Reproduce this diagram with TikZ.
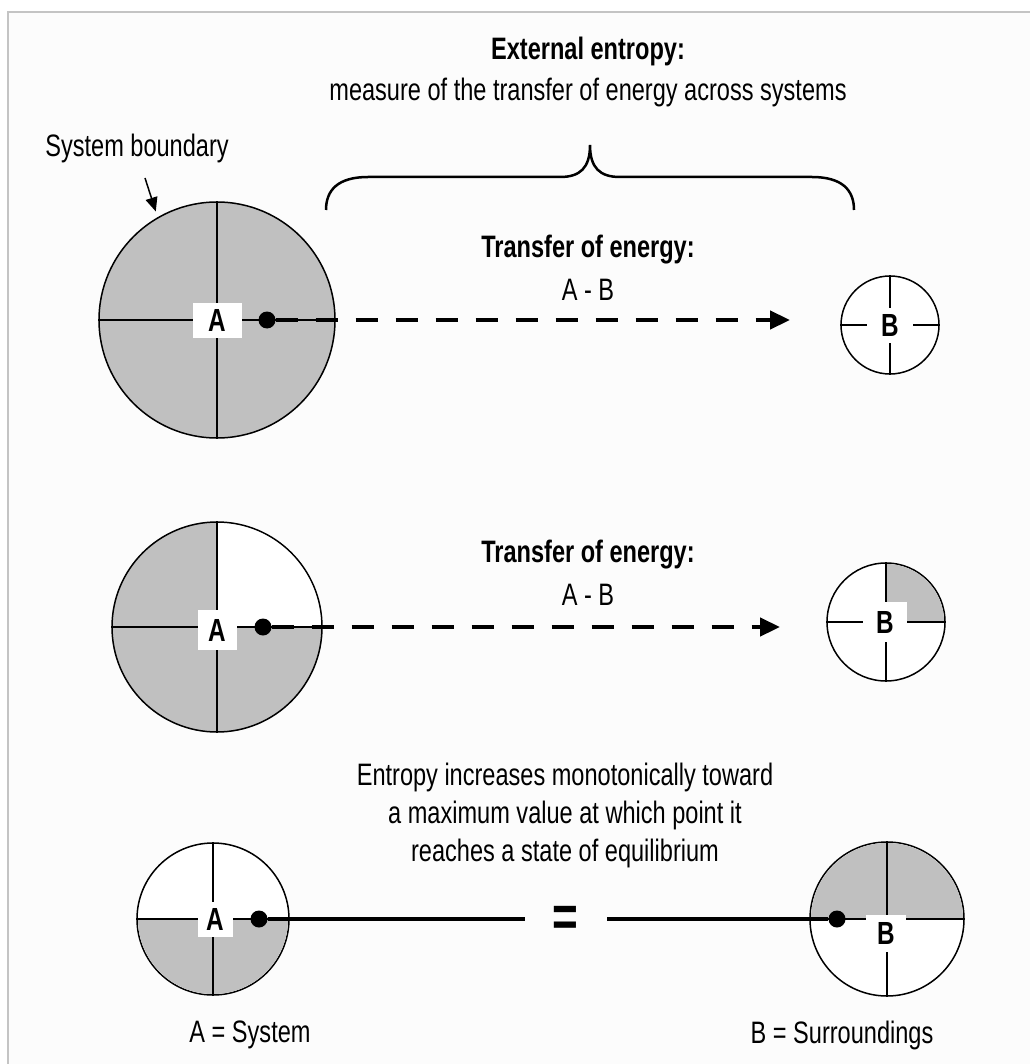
\documentclass[tikz,border=0pt]{standalone}
\usepackage{fontspec}
\setmainfont[FakeStretch=0.76]{Liberation Sans}
\usetikzlibrary{arrows.meta}
\definecolor{greyfill}{HTML}{C0C0C0}
\definecolor{framec}{HTML}{C4C4C4}
\definecolor{paper}{HTML}{FCFCFC}
\begin{document}
\begin{tikzpicture}[x=1pt,y=-1pt,
  txt/.style={inner sep=0pt, font=\fontsize{31}{36}\selectfont},
  btxt/.style={inner sep=0pt, font=\fontsize{31}{36}\selectfont\bfseries},
  disc/.style={circle, draw=black, line width=1.5pt, inner sep=0pt, fill=white},
  cross/.style={line width=1.5pt},
  lab/.style={fill=white, inner sep=0pt, font=\fontsize{32}{32}\selectfont\bfseries},
  dot/.style={circle, fill=black, inner sep=0pt, minimum size=17pt},
  flow/.style={line width=4.5pt, dash pattern=on 22pt off 18pt, -{Triangle[length=20pt,width=18pt]}},
  link/.style={line width=4pt},
  pointer/.style={line width=1.5pt, -{Triangle[length=14pt,width=12pt]}},
  bracec/.style={line width=2.5pt}
]
\useasboundingbox (0,0) rectangle (1030,1064);
\fill[white] (0,0) rectangle (1030,1064);
\fill[paper] (8,12) rectangle (1030,1064);
\draw[framec, line width=2pt] (8,1064) -- (8,12) -- (1030,12);

% top texts
\node[btxt] (ext) at (588,51) {External entropy:};
\node[txt] (meas) at (588,92) {measure of the transfer of energy across systems};
\node[txt] (sb) at (137,148) {System boundary};

% brace
\coordinate (brL) at (326,210);
\coordinate (brR) at (854,210);
\coordinate (brT) at (590,145);
\draw[bracec] (brL) .. controls (326,190) and (338,177) .. (368,177) -- (560,177)
  .. controls (580,177) and (590,168) .. (brT)
  .. controls (590,168) and (600,177) .. (620,177) -- (812,177)
  .. controls (842,177) and (854,190) .. (brR);

% ---------- Row 1 ----------
\node[disc, fill=greyfill, minimum size=236pt] (A1) at (217,320) {};
\draw[cross] (A1.west) -- (A1.east);
\draw[cross] (A1.north) -- (A1.south);
\node[lab, minimum width=49pt, minimum height=35pt] (LA1) at (217,320) {A};
\node[dot] (dA1) at (267,320) {};
\coordinate (t1) at (790,320);
\draw[flow] (dA1) -- (t1);
\coordinate (sbp) at (145,178);
\draw[pointer, shorten >=6pt] (sbp) -- (A1.120);

\node[disc, minimum size=98pt] (B1) at (890,325) {};
\node[lab, minimum width=40pt, minimum height=30pt] (LB1) at (890,325) {B};
\draw[cross] (B1.west) -- (867,325);
\draw[cross] (B1.east) -- (913,325);
\draw[cross] (B1.north) -- (890,308);
\draw[cross] (B1.south) -- (890,343);
\node[btxt] (tr1) at (588,250) {Transfer of energy:};
\node[txt] (ab1) at (588,290) {A - B};

% ---------- Row 2 ----------
\node[disc, fill=greyfill, minimum size=210pt] (A2) at (217,627) {};
\begin{scope}
  \clip (217,627) rectangle (330,515);
  \fill[white] (217,627) circle[radius=104pt];
\end{scope}
\draw[cross] (A2.west) -- (A2.east);
\draw[cross] (A2.north) -- (A2.south);
\node[lab, minimum width=39pt, minimum height=40pt] (LA2) at (217,630) {A};
\node[dot] (dA2) at (263,627) {};
\coordinate (t2) at (780,627);
\draw[flow] (dA2) -- (t2);

\node[disc, minimum size=118pt] (B2) at (886,622) {};
\begin{scope}
  \clip (886,622) rectangle (950,560);
  \fill[greyfill] (886,622) circle[radius=58pt];
\end{scope}
\node[lab, minimum width=44pt, minimum height=40pt] (LB2) at (885,622) {B};
\draw[cross] (B2.west) -- (LB2.west |- B2.west);
\draw[cross] (B2.east) -- (LB2.east |- B2.east);
\draw[cross] (B2.north) -- (LB2.north -| B2.north);
\draw[cross] (B2.south) -- (LB2.south -| B2.south);
\node[btxt] (tr2) at (588,555) {Transfer of energy:};
\node[txt] (ab2) at (588,595) {A - B};

% ---------- Row 3 ----------
\node[txt, align=center] (ent) at (565,815) {Entropy increases monotonically toward\\[2pt]a maximum value at which point it\\[2pt]reaches a state of equilibrium};

\node[disc, minimum size=152pt] (A3) at (213,919) {};
\begin{scope}
  \clip (130,919) rectangle (300,1000);
  \fill[greyfill] (213,919) circle[radius=75pt];
\end{scope}
\draw[cross] (A3.west) -- (A3.east);
\draw[cross] (A3.north) -- (A3.south);
\node[lab, minimum width=35pt, minimum height=35pt] (LA3) at (215,919) {A};
\node[dot] (dA3) at (259,919) {};

\node[disc, minimum size=154pt] (B3) at (887,919) {};
\begin{scope}
  \clip (800,919) rectangle (970,835);
  \fill[greyfill] (887,919) circle[radius=76pt];
\end{scope}
\draw[cross] (B3.west) -- (B3.east);
\draw[cross] (B3.north) -- (B3.center);
\node[lab, minimum width=40pt, minimum height=37pt] (LB3) at (886,933) {B};
\draw[cross] (B3.south) -- (LB3.south -| B3.south);
\node[dot] (dB3) at (837,919) {};

\node[inner sep=0pt, font=\fontsize{58}{58}\selectfont\bfseries] (eq) at (565,921) {=};
\coordinate (lend) at (525,919);
\coordinate (rstart) at (607,919);
\draw[link] (dA3) -- (lend);
\draw[link] (rstart) -- (dB3);

\node[txt] (ka) at (250,1035) {A = System};
\node[txt] (kb) at (842,1035) {B = Surroundings};
\end{tikzpicture}
\end{document}
